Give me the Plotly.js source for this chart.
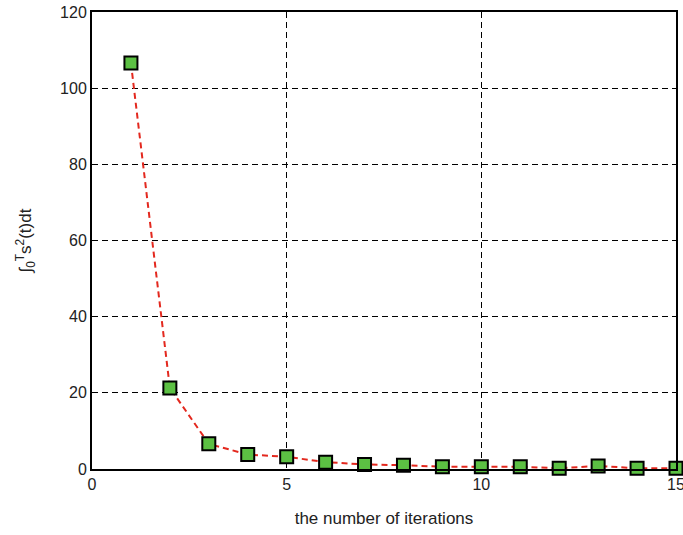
<!DOCTYPE html>
<html><head><meta charset="utf-8">
<script src="https://cdn.plot.ly/plotly-3.0.1.min.js"></script>
<style>body{margin:0;padding:0;background:#fff}#chart{width:683px;height:535px}</style>
</head><body><div id="chart"></div>
<script>
const iterations = [1,2,3,4,5,6,7,8,9,10,11,12,13,14,15];
const integralValues = [106.6,21.3,6.6,3.8,3.2,1.8,1.2,1.0,0.6,0.6,0.6,0.2,0.8,0.2,0.2];
const xTicks = [0,5,10,15];
const yTicks = [0,20,40,60,80,100,120];

const trace = {
  x: iterations, y: integralValues, type: 'scatter', mode: 'lines+markers',
  line: {color: '#e3281e', width: 2, dash: '6px,4px'},
  marker: {symbol: 'square', size: 13, color: '#5cc043', line: {color: '#000', width: 2}},
  cliponaxis: false
};
const axisCommon = {
  showline: true, mirror: true, linecolor: '#000', linewidth: 2,
  showgrid: true, gridcolor: '#000', gridwidth: 1, griddash: '6px,4px',
  zeroline: false, ticks: '', ticklabeloverflow: 'allow',
  tickfont: {family: 'Liberation Sans, Arial, sans-serif', size: 16, color: '#222'}
};
const layout = {
  width: 683, height: 535,
  margin: {l: 92, r: 7, t: 12, b: 66},
  paper_bgcolor: '#fff', plot_bgcolor: '#fff',
  showlegend: false,
  font: {family: 'Liberation Sans, Arial, sans-serif', color: '#222'},
  xaxis: Object.assign({}, axisCommon, {range: [0, 15], tickvals: xTicks, ticktext: xTicks.map(String),
    title: {text: 'the number of iterations', font: {size: 17, color: '#222'}, standoff: 20}}),
  yaxis: Object.assign({}, axisCommon, {range: [0, 120], tickvals: yTicks, ticktext: yTicks.map(String),
    title: {text: '∫<sub>0</sub><sup>T</sup>s<sup>2</sup>(t)dt', font: {size: 17, color: '#222'}, standoff: 24}})
};
Plotly.newPlot('chart', [trace], layout, {displayModeBar: false, staticPlot: true});
</script></body></html>
